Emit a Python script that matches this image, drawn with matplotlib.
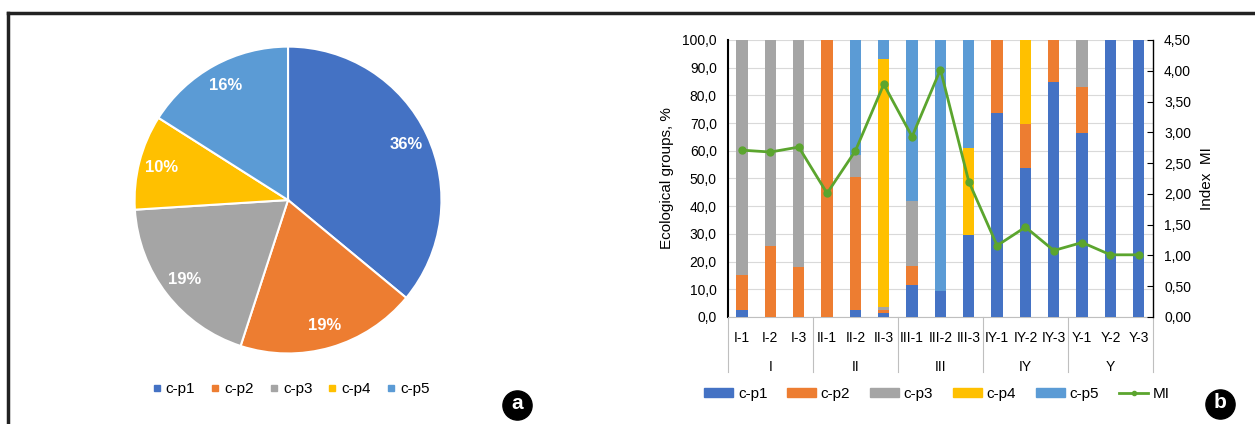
import numpy as np
import matplotlib
matplotlib.use("Agg")
import matplotlib.pyplot as plt
from matplotlib.patches import Patch
from matplotlib.lines import Line2D
from matplotlib.transforms import blended_transform_factory

plt.rcParams["font.family"] = ["Liberation Sans Narrow", "Liberation Sans", "DejaVu Sans"]

# ---------- dados ----------
groups = ["c-p1", "c-p2", "c-p3", "c-p4", "c-p5"]
colors = ["#4472C4", "#ED7D31", "#A5A5A5", "#FFC000", "#5B9BD5"]
pie_vals = [36, 19, 19, 10, 16]

samples = ["I-1", "I-2", "I-3", "II-1", "II-2", "II-3", "III-1", "III-2", "III-3",
           "IY-1", "IY-2", "IY-3", "Y-1", "Y-2", "Y-3"]
sites = ["I", "II", "III", "IY", "Y"]
cp1 = [2.5, 0, 0, 0, 2.5, 1.5, 11.5, 9.5, 29.6, 73.5, 53.9, 85.0, 66.5, 100, 100]
cp2 = [12.5, 25.5, 18.0, 100, 48.0, 1.0, 7.0, 0, 0, 26.5, 15.7, 15.0, 16.6, 0, 0]
cp3 = [85.0, 74.5, 82.0, 0, 8.0, 1.0, 23.5, 0, 0, 0, 0, 0, 16.9, 0, 0]
cp4 = [0, 0, 0, 0, 0, 89.5, 0, 0, 31.5, 0, 30.4, 0, 0, 0, 0]
cp5 = [0, 0, 0, 0, 41.5, 7.0, 58.0, 90.5, 38.9, 0, 0, 0, 0, 0, 0]
mi = [2.71, 2.68, 2.76, 2.01, 2.70, 3.78, 2.93, 4.02, 2.20, 1.16, 1.46, 1.08, 1.21, 1.01, 1.01]

fig = plt.figure(figsize=(12.55, 4.24), dpi=100)

# moldura (linha superior e esquerda)
fig.add_artist(Line2D([8/1255, 1], [1-13/424, 1-13/424], color="#222222", lw=2.5))
fig.add_artist(Line2D([8/1255, 8/1255], [0, 1-13/424], color="#222222", lw=2.5))

# ---------- (a) pizza ----------
axp = fig.add_axes([0.1060, 0.1627, 0.247, 0.731])
wedges, _, autot = axp.pie(pie_vals, colors=colors, startangle=90, counterclock=False,
                           autopct="%d%%", pctdistance=0.85,
                           wedgeprops=dict(edgecolor="white", linewidth=1.5),
                           textprops=dict(color="white", fontsize=12, fontweight="bold"))
axp.set_xlim(-1.01, 1.01); axp.set_ylim(-1.01, 1.01)
axp.set_aspect("equal")
h = [Line2D([], [], marker="s", ls="", color=c, markersize=4) for c in colors]
fig.legend(h, groups, loc="center", bbox_to_anchor=(290/1255, 1-389/424), ncol=5,
           frameon=False, fontsize=11, handletextpad=0.2, columnspacing=0.9, handlelength=0.8)

# ---------- (b) barras + MI ----------
ax = fig.add_axes([0.580, 0.2524, 0.3387, 0.6533])
x = np.arange(len(samples))
bottom = np.zeros(len(samples))
for vals, c, g in zip([cp1, cp2, cp3, cp4, cp5], colors, groups):
    ax.bar(x, vals, 0.4, bottom=bottom, color=c, label=g, zorder=3)
    bottom += np.array(vals)
ax.set_xlim(-0.5, len(samples) - 0.5)
ax.set_ylim(0, 100)
ax.set_yticks(np.arange(0, 101, 10))
ax.set_yticklabels([f"{v:.1f}".replace(".", ",") for v in np.arange(0, 101, 10)], fontsize=10)
ax.grid(axis="y", color="#d9d9d9", lw=0.8, zorder=0)
ax.set_ylabel("Ecological groups, %", fontsize=11, labelpad=6)
ax.set_xticks([])
for s in ["top", "right"]:
    ax.spines[s].set_visible(False)
ax.spines["left"].set_color("black")
ax.spines["left"].set_linewidth(1.5)
ax.spines["bottom"].set_color("#bfbfbf")
ax.tick_params(axis="y", length=0, pad=8)

tr = blended_transform_factory(ax.transData, ax.transAxes)
for i, s in enumerate(samples):
    ax.text(i, -0.075, s, transform=tr, ha="center", va="center", fontsize=10)
for k, g in enumerate(sites):
    ax.text(3 * k + 1, -0.18, g, transform=tr, ha="center", va="center", fontsize=10)
for b in np.arange(-0.5, len(samples), 3):
    ax.plot([b, b], [0, -0.2], transform=tr, color="#bfbfbf", lw=0.8, clip_on=False)

ax2 = ax.twinx()
ax2.plot(x, mi, color="#5BA52E", lw=2, marker="o", markersize=5, label="MI", zorder=5)
ax2.set_ylim(0, 4.5)
ax2.set_yticks(np.arange(0, 4.51, 0.5))
ax2.set_yticklabels([f"{v:.2f}".replace(".", ",") for v in np.arange(0, 4.51, 0.5)], fontsize=10)
ax2.set_ylabel("Index  MI", fontsize=11, labelpad=6)
for s in ["top", "left", "bottom"]:
    ax2.spines[s].set_visible(False)
ax2.spines["right"].set_linewidth(1.0)
ax2.tick_params(axis="y", direction="in", length=4, pad=8)

hb = [Patch(color=c) for c in colors] + [Line2D([], [], color="#5BA52E", lw=2, marker="o", markersize=3)]
fig.legend(hb, groups + ["MI"], loc="center", bbox_to_anchor=(937/1255, 1-394/424), ncol=6,
           frameon=False, fontsize=11, handlelength=1.9, handleheight=0.5,
           handletextpad=0.3, columnspacing=1.3)

# círculos "a" e "b"
for cx, cy, t in [(517, 405, "a"), (1220, 404, "b")]:
    fig.add_artist(Line2D([cx/1255], [1-cy/424], marker="o", markersize=21, color="black", ls=""))
    fig.text(cx/1255, 1-cy/424 + 0.004, t, ha="center", va="center", color="white",
             fontsize=15, fontweight="bold")

fig.savefig("out.png", dpi=100)
